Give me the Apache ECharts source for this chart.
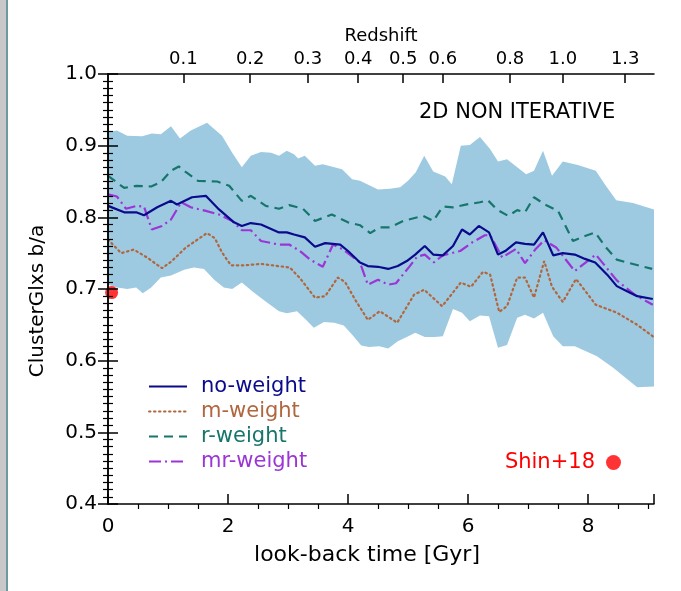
<!DOCTYPE html>
<html><head><meta charset="utf-8">
<script src="https://cdn.jsdelivr.net/npm/echarts@6/dist/echarts.min.js"></script>
<style>html,body{margin:0;padding:0;background:#fff}#c{width:681px;height:591px}</style>
</head><body><div id="c"></div>
<script>
// ---- data (look-back time [Gyr], b/a) ----
const bandUpper = [[0,0.919],[0.15,0.921],[0.32,0.914],[0.57,0.913],[0.73,0.917],[0.88,0.916],[1.05,0.927],[1.2,0.910],[1.38,0.921],[1.65,0.932],[1.9,0.914],[2.07,0.890],[2.23,0.870],[2.38,0.886],[2.55,0.891],[2.72,0.890],[2.85,0.886],[2.98,0.893],[3.1,0.888],[3.17,0.882],[3.28,0.886],[3.45,0.872],[3.58,0.874],[3.9,0.867],[4.07,0.853],[4.2,0.851],[4.5,0.839],[4.7,0.840],[4.87,0.842],[5.0,0.851],[5.13,0.863],[5.27,0.886],[5.42,0.864],[5.62,0.857],[5.73,0.846],[5.88,0.900],[6.03,0.901],[6.2,0.912],[6.37,0.895],[6.5,0.878],[6.65,0.881],[6.82,0.870],[6.97,0.860],[7.1,0.865],[7.25,0.893],[7.4,0.858],[7.58,0.878],[7.83,0.873],[8.13,0.865],[8.28,0.846],[8.47,0.824],[8.75,0.820],[9.1,0.811]];
const bandLower = [[0,0.706],[0.15,0.702],[0.32,0.700],[0.47,0.702],[0.58,0.694],[0.72,0.702],[0.88,0.716],[1.05,0.719],[1.27,0.727],[1.43,0.730],[1.6,0.728],[1.77,0.713],[1.93,0.702],[2.07,0.700],[2.23,0.709],[2.43,0.695],[2.65,0.681],[2.85,0.669],[2.98,0.666],[3.15,0.669],[3.3,0.657],[3.43,0.646],[3.6,0.654],[3.77,0.653],[3.93,0.649],[4.07,0.636],[4.22,0.621],[4.35,0.619],[4.52,0.620],[4.67,0.617],[4.83,0.627],[4.98,0.633],[5.12,0.639],[5.28,0.633],[5.45,0.633],[5.58,0.634],[5.75,0.672],[5.9,0.667],[6.03,0.655],[6.2,0.663],[6.35,0.662],[6.5,0.618],[6.65,0.622],[6.82,0.660],[6.95,0.664],[7.1,0.659],[7.25,0.667],[7.42,0.634],[7.58,0.620],[7.78,0.620],[8.15,0.606],[8.42,0.590],[8.82,0.563],[9.1,0.564]];
const noWeight = [[0,0.816],[0.27,0.807],[0.47,0.807],[0.6,0.803],[0.82,0.814],[1.05,0.823],[1.15,0.818],[1.4,0.828],[1.63,0.830],[1.85,0.811],[2.1,0.793],[2.23,0.788],[2.38,0.792],[2.55,0.790],[2.85,0.779],[2.98,0.779],[3.1,0.776],[3.28,0.772],[3.45,0.759],[3.62,0.764],[3.87,0.762],[4.0,0.753],[4.2,0.737],[4.33,0.732],[4.5,0.731],[4.67,0.728],[4.83,0.732],[4.98,0.739],[5.12,0.748],[5.28,0.760],[5.42,0.748],[5.58,0.747],[5.75,0.760],[5.9,0.783],[6.03,0.776],[6.18,0.788],[6.35,0.779],[6.5,0.748],[6.62,0.753],[6.8,0.765],[6.95,0.763],[7.1,0.762],[7.25,0.779],[7.42,0.747],[7.58,0.750],[7.78,0.748],[7.95,0.742],[8.12,0.737],[8.32,0.720],[8.48,0.704],[8.65,0.697],[8.82,0.690],[9.08,0.686]];
const mWeight = [[0,0.769],[0.22,0.750],[0.43,0.755],[0.65,0.744],[0.9,0.729],[1.05,0.738],[1.3,0.758],[1.65,0.778],[1.78,0.771],[1.9,0.751],[2.05,0.733],[2.27,0.733],[2.55,0.735],[2.93,0.731],[3.03,0.730],[3.2,0.715],[3.45,0.688],[3.62,0.690],[3.83,0.716],[3.95,0.710],[4.12,0.685],[4.33,0.657],[4.53,0.669],[4.82,0.653],[4.95,0.671],[5.1,0.692],[5.27,0.699],[5.57,0.676],[5.88,0.709],[6.05,0.703],[6.25,0.724],[6.37,0.720],[6.52,0.668],[6.65,0.676],[6.82,0.716],[6.95,0.716],[7.1,0.688],[7.27,0.739],[7.4,0.703],[7.58,0.682],[7.8,0.714],[8.13,0.678],[8.48,0.667],[8.82,0.650],[9.08,0.634]];
const rWeight = [[0,0.858],[0.27,0.841],[0.47,0.844],[0.72,0.843],[0.88,0.849],[1.05,0.865],[1.18,0.871],[1.3,0.863],[1.5,0.851],[1.82,0.850],[2.02,0.844],[2.23,0.823],[2.38,0.830],[2.63,0.816],[2.85,0.812],[3.02,0.817],[3.25,0.812],[3.45,0.795],[3.73,0.804],[4.0,0.793],[4.2,0.789],[4.37,0.778],[4.53,0.786],[4.7,0.786],[4.92,0.795],[5.25,0.802],[5.42,0.795],[5.58,0.815],[5.75,0.814],[5.98,0.818],[6.2,0.821],[6.33,0.824],[6.48,0.811],[6.67,0.802],[6.82,0.810],[6.95,0.807],[7.1,0.828],[7.28,0.818],[7.5,0.809],[7.75,0.767],[7.95,0.774],[8.12,0.779],[8.28,0.760],[8.48,0.741],[8.65,0.737],[9.07,0.728]];
const mrWeight = [[0,0.832],[0.15,0.829],[0.3,0.812],[0.48,0.816],[0.6,0.815],[0.73,0.783],[0.9,0.788],[1.05,0.797],[1.22,0.821],[1.38,0.814],[1.63,0.809],[1.85,0.804],[2.07,0.795],[2.23,0.782],[2.38,0.782],[2.55,0.767],[2.85,0.762],[3.02,0.762],[3.2,0.753],[3.37,0.741],[3.58,0.731],[3.75,0.762],[3.92,0.755],[4.2,0.737],[4.33,0.706],[4.5,0.713],[4.67,0.706],[4.8,0.708],[5.03,0.732],[5.15,0.745],[5.28,0.748],[5.43,0.737],[5.58,0.747],[5.87,0.753],[6.07,0.765],[6.28,0.775],[6.37,0.775],[6.57,0.744],[6.8,0.756],[6.95,0.736],[7.12,0.755],[7.27,0.768],[7.47,0.758],[7.78,0.725],[8.13,0.748],[8.48,0.712],[8.78,0.692],[9.08,0.678]];
const shin18 = [[0.06,0.695]];
// top axis: redshift tick labels and their look-back times [Gyr]
const zLabels = ['0.1','0.2','0.3','0.4','0.5','0.6','0.8','1.0','1.3'];
const zTimes = [1.255,2.37,3.33,4.17,4.92,5.58,6.70,7.58,8.62];

const FONT = 'DejaVu Sans';
const C = {no:'#0a0a8c', m:'#b0673f', r:'#16766c', mr:'#9b35d6', band:'#9ecae1'};
const chart = echarts.init(document.getElementById('c'));
const axLine = {show:true, lineStyle:{color:'#000', width:1.5}};
const tlab = {color:'#000', fontFamily:FONT, fontSize:20};
const majorTick = {show:true, inside:true, length:10, lineStyle:{color:'#000', width:1.5}};
const minorIn = (n)=>({show:true, splitNumber:n, length:-5, lineStyle:{color:'#000', width:1.2}});
chart.setOption({
  animation:false,
  backgroundColor:'#fff',
  grid:{left:108, right:27, top:74, bottom:87},
  title:{text:'2D NON ITERATIVE', left:419, top:102, padding:0,
    textStyle:{fontFamily:FONT, fontSize:21, fontWeight:'normal', color:'#000'}},
  legend:[{
    orient:'vertical', left:148, top:376, padding:0, itemWidth:38, itemHeight:14, itemGap:4,
    itemStyle:{opacity:0},
    data:[
      {name:'no-weight', textStyle:{color:C.no}},
      {name:'m-weight', textStyle:{color:C.m}},
      {name:'r-weight', textStyle:{color:C.r}},
      {name:'mr-weight', textStyle:{color:C.mr}}],
    textStyle:{fontFamily:FONT, fontSize:21, lineHeight:14, padding:[0,0,0,9]}
  },{
    orient:'vertical', right:60, top:452, padding:0, align:'right', itemWidth:15, itemHeight:15,
    data:[{name:'Shin+18', icon:'circle', textStyle:{color:'#ff0000'}}],
    textStyle:{fontFamily:FONT, fontSize:21, lineHeight:15, padding:[0,6,0,0]}
  }],
  xAxis:[{
    type:'value', position:'bottom', min:0, max:9.1, interval:2,
    axisLine:axLine, axisTick:majorTick, minorTick:minorIn(4),
    axisLabel:{...tlab, margin:13, showMaxLabel:false},
    splitLine:{show:false}, minorSplitLine:{show:false},
    name:'look-back time [Gyr]', nameLocation:'middle', nameGap:40,
    nameTextStyle:{fontFamily:FONT, fontSize:22, color:'#000', padding:[0,28,0,0]}, z:10
  },{
    type:'value', position:'top', min:0, max:9.1,
    axisLine:axLine,
    axisTick:{show:true, inside:true, length:9, customValues:zTimes, lineStyle:{color:'#000', width:1.5}},
    axisLabel:{...tlab, fontSize:18, margin:6, customValues:zTimes,
      formatter:(v)=>{ const i = zTimes.findIndex(t=>Math.abs(t-v)<1e-6); return i>=0 ? zLabels[i] : ''; }},
    splitLine:{show:false},
    name:'Redshift', nameLocation:'middle', nameGap:21,
    nameTextStyle:{fontFamily:FONT, fontSize:18, color:'#000'}, z:10
  }],
  yAxis:[{
    type:'value', position:'left', min:0.4, max:1.0, interval:0.1,
    axisLine:axLine, axisTick:majorTick, minorTick:minorIn(10),
    axisLabel:{...tlab, margin:11, formatter:(v)=>v.toFixed(1)},
    splitLine:{show:false}, minorSplitLine:{show:false},
    name:'ClusterGlxs b/a', nameLocation:'middle', nameGap:60, nameRotate:90,
    nameTextStyle:{fontFamily:FONT, fontSize:20, color:'#000', padding:[0,24,0,0]}, z:10
  },{
    type:'value', position:'right', min:0.4, max:1.0, interval:0.1,
    axisLine:axLine, axisTick:majorTick, minorTick:minorIn(10),
    axisLabel:{show:false}, splitLine:{show:false}, minorSplitLine:{show:false}, z:10
  }],
  series:[{
    type:'custom', name:'band', silent:true, z:1, xAxisIndex:0, yAxisIndex:0,
    data:[[0,0.7]],
    renderItem:(params, api)=>{
      const pts = bandUpper.map(p=>api.coord(p)).concat(bandLower.slice().reverse().map(p=>api.coord(p)));
      return {type:'polygon', shape:{points:pts}, style:{fill:C.band}};
    }
  },{
    type:'line', name:'no-weight', data:noWeight, symbol:'none', z:5,
    lineStyle:{color:C.no, width:2.2, type:'solid'}, itemStyle:{color:C.no}
  },{
    type:'line', name:'m-weight', data:mWeight, symbol:'none', z:4,
    lineStyle:{color:C.m, width:2.2, type:[1.5,3.5], cap:'round'}, itemStyle:{color:C.m}
  },{
    type:'line', name:'r-weight', data:rWeight, symbol:'none', z:4,
    lineStyle:{color:C.r, width:2.2, type:[9,6]}, itemStyle:{color:C.r}
  },{
    type:'line', name:'mr-weight', data:mrWeight, symbol:'none', z:4,
    lineStyle:{color:C.mr, width:2.2, type:[12,4,2,4]}, itemStyle:{color:C.mr}
  },{
    type:'scatter', name:'Shin+18', data:shin18, symbol:'circle', symbolSize:13, z:6,
    itemStyle:{color:'#ff0000'}
  }],
  graphic:[
    {type:'rect', left:0, top:0, shape:{width:6, height:591}, style:{fill:'#c8c8c8'}, silent:true},
    {type:'line', shape:{x1:7, y1:0, x2:7, y2:591}, style:{stroke:'#3c7a7a', lineWidth:1.5}, silent:true}
  ]
});
</script></body></html>
